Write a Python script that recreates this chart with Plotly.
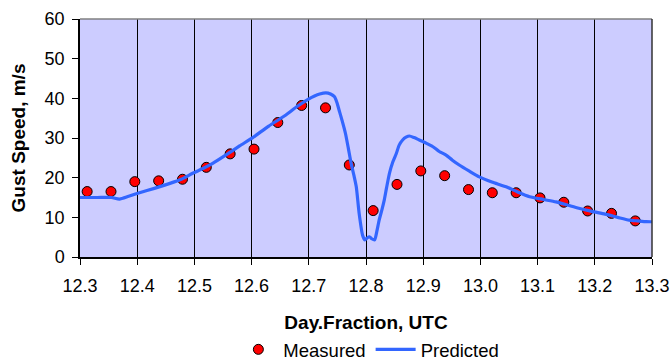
import plotly.graph_objects as go

# Hourly measured gust speeds (day fraction, UTC)
measured_day = [12.3125, 12.3542, 12.3958, 12.4375, 12.4792, 12.5208, 12.5625, 12.6042,
                12.6458, 12.6875, 12.7292, 12.7708, 12.8125, 12.8542, 12.8958, 12.9375,
                12.9792, 13.0208, 13.0625, 13.1042, 13.1458, 13.1875, 13.2292, 13.2708]
measured_speed = [16.5, 16.5, 19.0, 19.2, 19.6, 22.6, 26.0, 27.2,
                  33.9, 38.2, 37.6, 23.2, 11.7, 18.3, 21.7, 20.5,
                  17.0, 16.2, 16.2, 14.9, 13.8, 11.6, 11.0, 9.1]

# Model prediction
predicted_day = [12.29, 12.33, 12.355, 12.369, 12.385, 12.404, 12.43, 12.456, 12.477,
                 12.497, 12.515, 12.532, 12.556, 12.579, 12.602, 12.63, 12.660, 12.680,
                 12.698, 12.710, 12.719, 12.730, 12.738, 12.745, 12.749, 12.753, 12.758,
                 12.764, 12.769, 12.774, 12.779, 12.783, 12.788, 12.794, 12.798, 12.802,
                 12.806, 12.810, 12.815, 12.819, 12.823, 12.828, 12.832, 12.836, 12.841,
                 12.847, 12.853, 12.858, 12.864, 12.870, 12.876, 12.884, 12.893, 12.905,
                 12.917, 12.928, 12.940, 12.951, 12.963, 12.980, 12.998, 13.020, 13.045,
                 13.065, 13.086, 13.110, 13.132, 13.152, 13.172, 13.195, 13.218, 13.240,
                 13.260, 13.275, 13.290, 13.310]
predicted_speed = [15.0, 15.0, 15.0, 14.6, 15.3, 16.2, 17.3, 18.5, 19.6,
                   21.1, 22.3, 23.6, 25.8, 28.0, 30.1, 33.0, 35.8, 38.0,
                   39.7, 40.6, 41.1, 41.4, 41.1, 40.4, 39.0, 37.0, 34.5,
                   31.2, 27.5, 23.6, 20.5, 17.7, 11.0, 5.5, 4.3, 4.8,
                   5.1, 4.6, 4.3, 6.5, 9.3, 12.0, 14.4, 17.5, 21.1,
                   24.0, 26.1, 28.2, 29.5, 30.2, 30.5, 30.1, 29.5, 28.7,
                   27.8, 26.6, 25.7, 24.4, 23.2, 21.7, 20.2, 18.9, 17.7,
                   16.4, 15.2, 14.5, 13.9, 13.1, 12.3, 11.5, 10.8, 10.0,
                   9.3, 9.1, 8.9, 8.9]

x_ticks = [12.3, 12.4, 12.5, 12.6, 12.7, 12.8, 12.9, 13.0, 13.1, 13.2, 13.3]
y_ticks = [0, 10, 20, 30, 40, 50, 60]

FONT = "Arial, Liberation Sans, sans-serif"

fig = go.Figure()

fig.add_trace(go.Scatter(
    x=measured_day, y=measured_speed, mode="markers", name="Measured",
    marker=dict(color="#FF0000", size=10, line=dict(color="black", width=1)),
    cliponaxis=False,
))
fig.add_trace(go.Scatter(
    x=predicted_day, y=predicted_speed, mode="lines", name="Predicted",
    line=dict(color="#3366FF", width=3.2, shape="spline", smoothing=0.6),
))

fig.update_layout(
    width=672, height=360,
    margin=dict(l=80, r=20, t=19, b=103, autoexpand=False),
    paper_bgcolor="white",
    plot_bgcolor="#CCCCFF",
    font=dict(family=FONT, size=18, color="black"),
    showlegend=True,
    legend=dict(
        orientation="h", x=0.505, xanchor="center", y=-0.39, yanchor="middle",
        font=dict(family=FONT, size=18.5), itemwidth=40, tracegroupgap=0,
        bgcolor="rgba(0,0,0,0)",
    ),
    xaxis=dict(
        range=[12.3, 13.3], tickvals=x_ticks, tickformat=".1f",
        showgrid=True, gridcolor="black", gridwidth=1,
        showline=True, linecolor="black", linewidth=1.5,
        ticks="outside", ticklen=6, tickcolor="black",
        tickfont=dict(size=18), zeroline=False, automargin=False,
        ticklabelstandoff=6,
        title=dict(text="<b>Day.Fraction, UTC</b>", font=dict(size=19), standoff=20),
    ),
    yaxis=dict(
        range=[0, 60], tickvals=y_ticks,
        showgrid=False,
        showline=True, linecolor="black", linewidth=1.5,
        ticks="outside", ticklen=6, tickcolor="black",
        tickfont=dict(size=18), zeroline=False, automargin=False,
        ticklabelstandoff=4,
        title=dict(text="<b>Gust Speed, m/s</b>", font=dict(size=19), standoff=14),
    ),
    shapes=[
        dict(type="line", xref="paper", yref="paper", x0=0, x1=1, y0=1, y1=1,
             line=dict(color="#808080", width=1.5)),
        dict(type="line", xref="paper", yref="paper", x0=1, x1=1, y0=0, y1=1,
             line=dict(color="#333333", width=1.5)),
    ],
)

fig.write_html("out.html")
